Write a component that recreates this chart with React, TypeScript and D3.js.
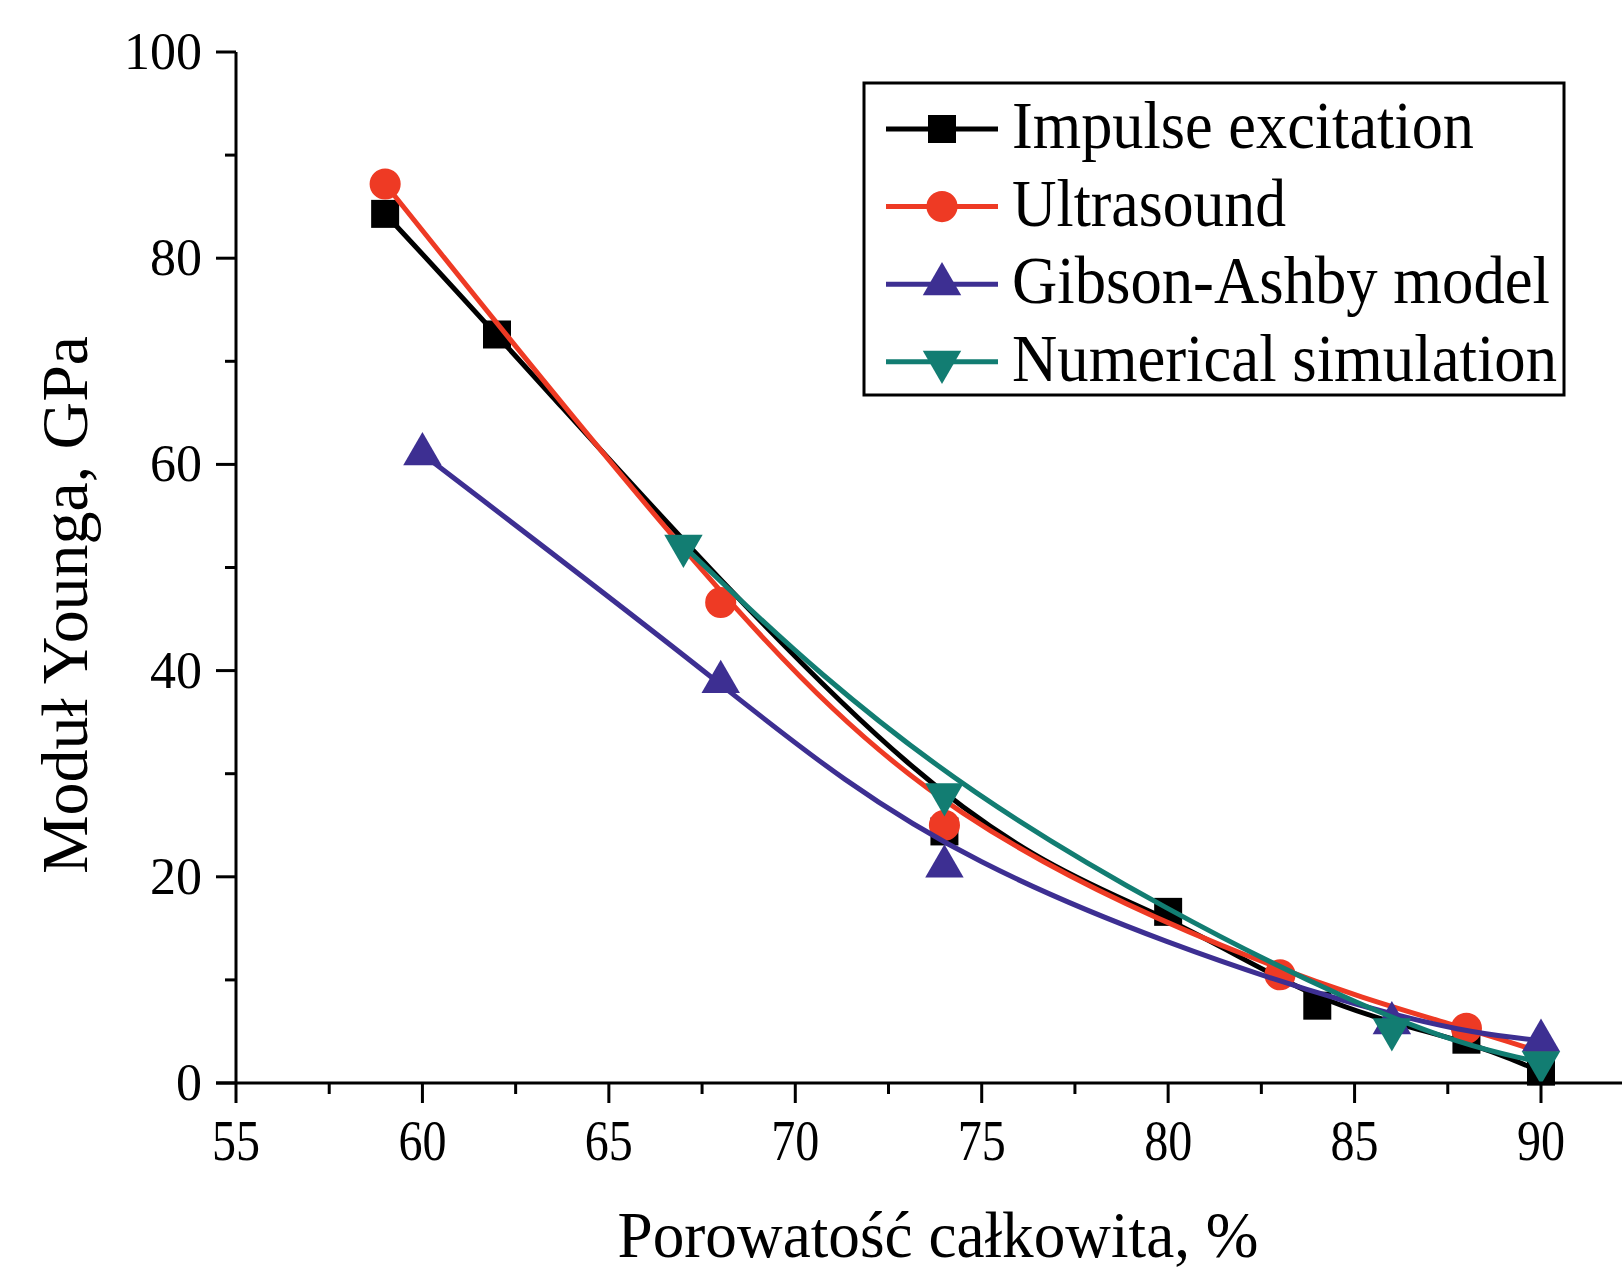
import React from "react";
import * as d3 from "d3";

const W = 1622;
const H = 1273;

const xTicks = [55, 60, 65, 70, 75, 80, 85, 90];
const yTicks = [0, 20, 40, 60, 80, 100];

const impulseX = [59, 62, 74, 80, 84, 88, 90];
const impulseY = [84.3, 72.6, 24.4, 16.6, 7.5, 4.2, 1.1];

const ultraX = [59, 68, 74, 83, 88, 90];
const ultraY = [87.2, 46.6, 25.0, 10.5, 5.3, 3.0];

const gibsonX = [60, 68, 74, 86, 90];
const gibsonY = [61.0, 38.9, 21.0, 5.8, 4.1];

const numX = [67, 74, 86, 90];
const numY = [52.1, 28.0, 5.2, 2.0];

const seriesNames = ["Impulse excitation", "Ultrasound", "Gibson-Ashby model", "Numerical simulation"];
const seriesColors = ["#000000", "#ee3a24", "#3d2f92", "#127d72"];
const seriesShapes = ["square", "circle", "triangle", "triangleDown"];
const legendWidths = [462, 274, 538, 545];

const xTitle = "Porowatość całkowita, %";
const yTitle = "Moduł Younga, GPa";

const FONT = "'Liberation Serif', 'Times New Roman', Times, serif";

function markerPath(shape: string): string {
  if (shape === "square") return d3.symbol(d3.symbolSquare, 784)() as string;
  if (shape === "circle") return d3.symbol(d3.symbolCircle, 760)() as string;
  return d3.symbol(d3.symbolTriangle, 640)() as string;
}

export default function App() {
  const x = d3.scaleLinear().domain([55, 90]).range([236, 1541]);
  const y = d3.scaleLinear().domain([0, 100]).range([1083, 52]);

  const series = [
    { xs: impulseX, ys: impulseY },
    { xs: ultraX, ys: ultraY },
    { xs: gibsonX, ys: gibsonY },
    { xs: numX, ys: numY },
  ];

  const line = d3
    .line<[number, number]>()
    .x((d) => x(d[0]))
    .y((d) => y(d[1]))
    .curve(d3.curveBasis);

  const xMinor = d3.range(55, 92.6, 2.5).filter((v) => v % 5 !== 0);
  const yMinor = d3.range(10, 100, 20);

  const x0 = x(55);
  const y0 = y(0);

  return (
    <svg
      width={W}
      height={H}
      style={{ position: "absolute", left: 0, top: 0, background: "#fff" }}
      fontFamily={FONT}
    >
      <rect x={0} y={0} width={W} height={H} fill="#fff" />
      {series.map((s, i) => {
        const pts = s.xs.map((v, j) => [v, s.ys[j]] as [number, number]);
        const mp = markerPath(seriesShapes[i]);
        return (
          <g key={i}>
            <path d={line(pts) as string} fill="none" stroke={seriesColors[i]} strokeWidth={5} strokeLinejoin="round" />
            {pts.map((p, j) => (
              <path
                key={j}
                d={mp}
                fill={seriesColors[i]}
                transform={`translate(${x(p[0])},${y(p[1])})${seriesShapes[i] === "triangleDown" ? " rotate(180)" : ""}`}
              />
            ))}
          </g>
        );
      })}

      <line x1={x0} x2={x0} y1={y(100)} y2={y0} stroke="#000" strokeWidth={3} />
      <line x1={x0 - 20} x2={W} y1={y0} y2={y0} stroke="#000" strokeWidth={3} />
      {yTicks.map((t) => (
        <g key={"yt" + t}>
          <line x1={x0 - 20} x2={x0} y1={y(t)} y2={y(t)} stroke="#000" strokeWidth={3} />
          <text x={202} y={y(t) + 17} fontSize={52} textAnchor="end" fill="#000">
            {t}
          </text>
        </g>
      ))}
      {yMinor.map((t) => (
        <line key={"ym" + t} x1={x0 - 11} x2={x0} y1={y(t)} y2={y(t)} stroke="#000" strokeWidth={3} />
      ))}
      {xTicks.map((t) => (
        <g key={"xt" + t}>
          <line x1={x(t)} x2={x(t)} y1={y0} y2={y0 + 20} stroke="#000" strokeWidth={3} />
          <text
            x={x(t)}
            y={1160}
            fontSize={56}
            textAnchor="middle"
            textLength={48}
            lengthAdjust="spacingAndGlyphs"
            fill="#000"
          >
            {t}
          </text>
        </g>
      ))}
      {xMinor.map((t) => (
        <line key={"xm" + t} x1={x(t)} x2={x(t)} y1={y0} y2={y0 + 11} stroke="#000" strokeWidth={3} />
      ))}

      <text x={938} y={1257} fontSize={65} textAnchor="middle" textLength={641} lengthAdjust="spacingAndGlyphs" fill="#000">
        {xTitle}
      </text>
      <text
        transform={`translate(87,605) rotate(-90)`}
        fontSize={65}
        textAnchor="middle"
        textLength={538}
        lengthAdjust="spacingAndGlyphs"
        fill="#000"
      >
        {yTitle}
      </text>

      <rect x={864} y={83} width={700} height={312} fill="#fff" stroke="#000" strokeWidth={3} />
      {seriesNames.map((name, i) => {
        const base = 148 + i * 77.6;
        const ly = base - 19;
        return (
          <g key={"lg" + i}>
            <line x1={886} x2={998} y1={ly} y2={ly} stroke={seriesColors[i]} strokeWidth={5} />
            <path
              d={markerPath(seriesShapes[i])}
              fill={seriesColors[i]}
              transform={`translate(942,${ly})${seriesShapes[i] === "triangleDown" ? " rotate(180)" : ""}`}
            />
            <text x={1012} y={base} fontSize={67} textLength={legendWidths[i]} lengthAdjust="spacingAndGlyphs" fill="#000">
              {name}
            </text>
          </g>
        );
      })}
    </svg>
  );
}
